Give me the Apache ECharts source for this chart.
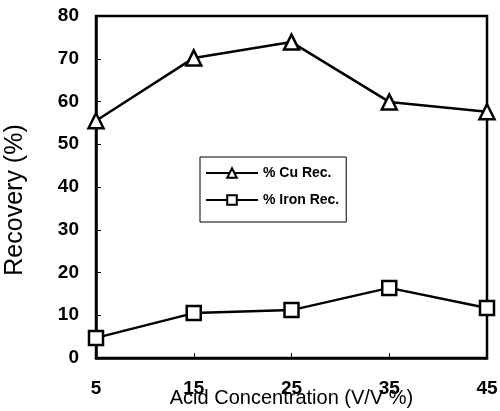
<!DOCTYPE html>
<html>
<head>
<meta charset="utf-8">
<script src="https://cdn.jsdelivr.net/npm/echarts@6/dist/echarts.min.js"></script>
<style>html,body{margin:0;padding:0;background:#fff;}#c{width:500px;height:411px;}</style>
</head>
<body>
<div id="c"></div>
<script>
const categories = ['5', '15', '25', '35', '45'];
const cuRec = [55.5, 70.2, 73.9, 59.9, 57.6];
const ironRec = [4.7, 10.5, 11.2, 16.4, 11.7];
const yTicks = { min: 0, max: 80, interval: 10 };

const chart = echarts.init(document.getElementById('c'));
const fontFamily = 'Liberation Sans, Arial, sans-serif';
chart.setOption({
  animation: false,
  backgroundColor: '#fff',
  grid: { left: 96, right: 13, top: 16, bottom: 53, show: true, borderColor: '#000', borderWidth: 2.5, backgroundColor: 'transparent', containLabel: false, outerBoundsMode: 'none' },
  legend: {
    orient: 'vertical', left: 200, top: 157,
    padding: [9, 7, 15, 5], itemGap: 13,
    itemWidth: 52, itemHeight: 12,
    borderColor: '#000', borderWidth: 1, backgroundColor: '#fff',
    textStyle: { fontFamily, fontSize: 14, color: '#000', lineHeight: 14, fontWeight: 'bold' },
    data: ['% Cu Rec.', '% Iron Rec.']
  },
  xAxis: {
    type: 'category', data: categories, boundaryGap: false,
    name: 'Acid Concentration (V/V %)', nameLocation: 'middle', nameGap: 30, nameMoveOverlap: false,
    nameTextStyle: { fontFamily, fontSize: 20, color: '#000' },
    axisLine: { lineStyle: { color: '#000', width: 2.5 } },
    axisTick: { inside: true, length: 5, lineStyle: { color: '#000', width: 1 } },
    axisLabel: { fontFamily, fontSize: 19, fontWeight: 'bold', color: '#000', margin: 21 },
    splitLine: { show: false }
  },
  yAxis: {
    type: 'value', min: yTicks.min, max: yTicks.max, interval: yTicks.interval,
    name: 'Recovery (%)', nameLocation: 'middle', nameGap: 68, nameMoveOverlap: false,
    nameTextStyle: { fontFamily, fontSize: 25, color: '#000', padding: [0, 26, 0, 0] },
    axisLine: { show: true, lineStyle: { color: '#000', width: 2.5 } },
    axisTick: { show: true, inside: true, length: 5, lineStyle: { color: '#000', width: 1 } },
    axisLabel: { fontFamily, fontSize: 19, fontWeight: 'bold', color: '#000', margin: 17 },
    splitLine: { show: false }
  },
  series: [
    {
      name: '% Cu Rec.', type: 'line', data: cuRec,
      symbol: 'triangle', symbolSize: 15,
      lineStyle: { color: '#000', width: 2.5 },
      itemStyle: { color: '#fff', borderColor: '#000', borderWidth: 2.5 }
    },
    {
      name: '% Iron Rec.', type: 'line', data: ironRec,
      symbol: 'rect', symbolSize: 14,
      lineStyle: { color: '#000', width: 2.5 },
      itemStyle: { color: '#fff', borderColor: '#000', borderWidth: 2.5 }
    }
  ]
});
</script>
</body>
</html>
